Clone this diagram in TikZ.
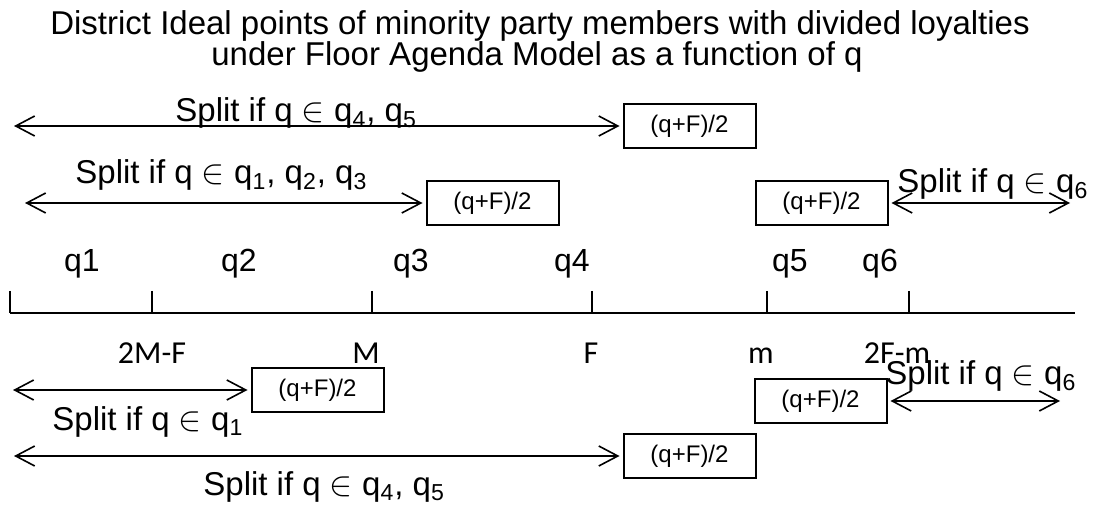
\documentclass[tikz,border=0pt]{standalone}
\usepackage{fontspec}
\setmainfont{Liberation Sans}
\newfontfamily\calfont{Carlito}
\usetikzlibrary{arrows.meta}

\newcommand{\splitif}{Split if q $\in$ }

\tikzset{
  halfbox/.style={draw, line width=1pt, minimum width=66pt, minimum height=22pt, inner sep=0pt, font=\fontsize{12}{14}\selectfont},
  splitlbl/.style={anchor=base west, inner sep=0pt, font=\fontsize{16.5}{19}\selectfont},
  titlelbl/.style={anchor=base, inner sep=0pt, font=\fontsize{16.5}{19}\selectfont},
  qlbl/.style={anchor=base, inner sep=0pt, font=\fontsize{16}{19}\selectfont},
  ptlbl/.style={anchor=base, inner sep=0pt, font=\calfont\fontsize{16}{19}\selectfont},
  splitarrow/.style={line width=0.8pt, {Straight Barb[length=9.5pt,width=10pt]}-{Straight Barb[length=9.5pt,width=10pt]}},
}

\begin{document}
\begin{tikzpicture}[x=0.5pt, y=-0.5pt]

\useasboundingbox (0,0) rectangle (1094,508);

% Title
\node[titlelbl] (title1) at (540,35) {District Ideal points of minority party members with divided loyalties};
\node[titlelbl] (title2) at (537,66) {under Floor Agenda Model as a function of q};

% Upper split ranges
\coordinate (a1) at (14,126);
\node[halfbox] (b1) at (689.5,126) {(q+F)/2};
\draw[splitarrow] (a1) -- ([xshift=-1.5pt]b1.west);
\node[splitlbl] (l1) at (175,122) {\splitif q\textsubscript{4}, q\textsubscript{5}};

\coordinate (a2) at (25,203);
\node[halfbox] (b2) at (492.5,203) {(q+F)/2};
\draw[splitarrow] (a2) -- ([xshift=-1.5pt]b2.west);
\node[splitlbl] (l2) at (75,184) {\splitif q\textsubscript{1}, q\textsubscript{2}, q\textsubscript{3}};

\coordinate (a3) at (1070,203);
\node[halfbox] (b3) at (821.5,203) {(q+F)/2};
\draw[splitarrow] ([xshift=1.5pt]b3.east) -- (a3);
\node[splitlbl] (l3) at (897,193) {\splitif q\textsubscript{6}};

% Interval names above the line
\foreach \x/\n in {82/1, 239/2, 411/3, 572/4, 790/5, 880/6} {
  \node[qlbl] (q\n) at (\x,271) {q\n};
}

% The line and its ticks
\draw[line width=1pt] (10,313) -- (1075,313);
\foreach \x in {10, 152, 372, 592, 767, 909} {
  \draw[line width=1pt] (\x,291) -- (\x,313);
}

% Points below the line
\node[ptlbl] (p1) at (152,364) {2M-F};
\node[ptlbl] (p2) at (366,364) {M};
\node[ptlbl] (p3) at (591,364) {F};
\node[ptlbl] (p4) at (761,364) {m};
\node[ptlbl] (p5) at (897,364) {2F-m};

% Lower split ranges
\coordinate (a4) at (13,390);
\node[halfbox] (b4) at (317.5,390) {(q+F)/2};
\draw[splitarrow] (a4) -- ([xshift=-1.5pt]b4.west);
\node[splitlbl] (l4) at (52,430) {\splitif q\textsubscript{1}};

\coordinate (a5) at (1060,401);
\node[halfbox] (b5) at (820.5,401) {(q+F)/2};
\draw[splitarrow] ([xshift=1.5pt]b5.east) -- (a5);
\node[splitlbl] (l5) at (885,385) {\splitif q\textsubscript{6}};

\coordinate (a6) at (14,456);
\node[halfbox] (b6) at (689.5,456) {(q+F)/2};
\draw[splitarrow] (a6) -- ([xshift=-1.5pt]b6.west);
\node[splitlbl] (l6) at (203,495) {\splitif q\textsubscript{4}, q\textsubscript{5}};

\end{tikzpicture}
\end{document}
